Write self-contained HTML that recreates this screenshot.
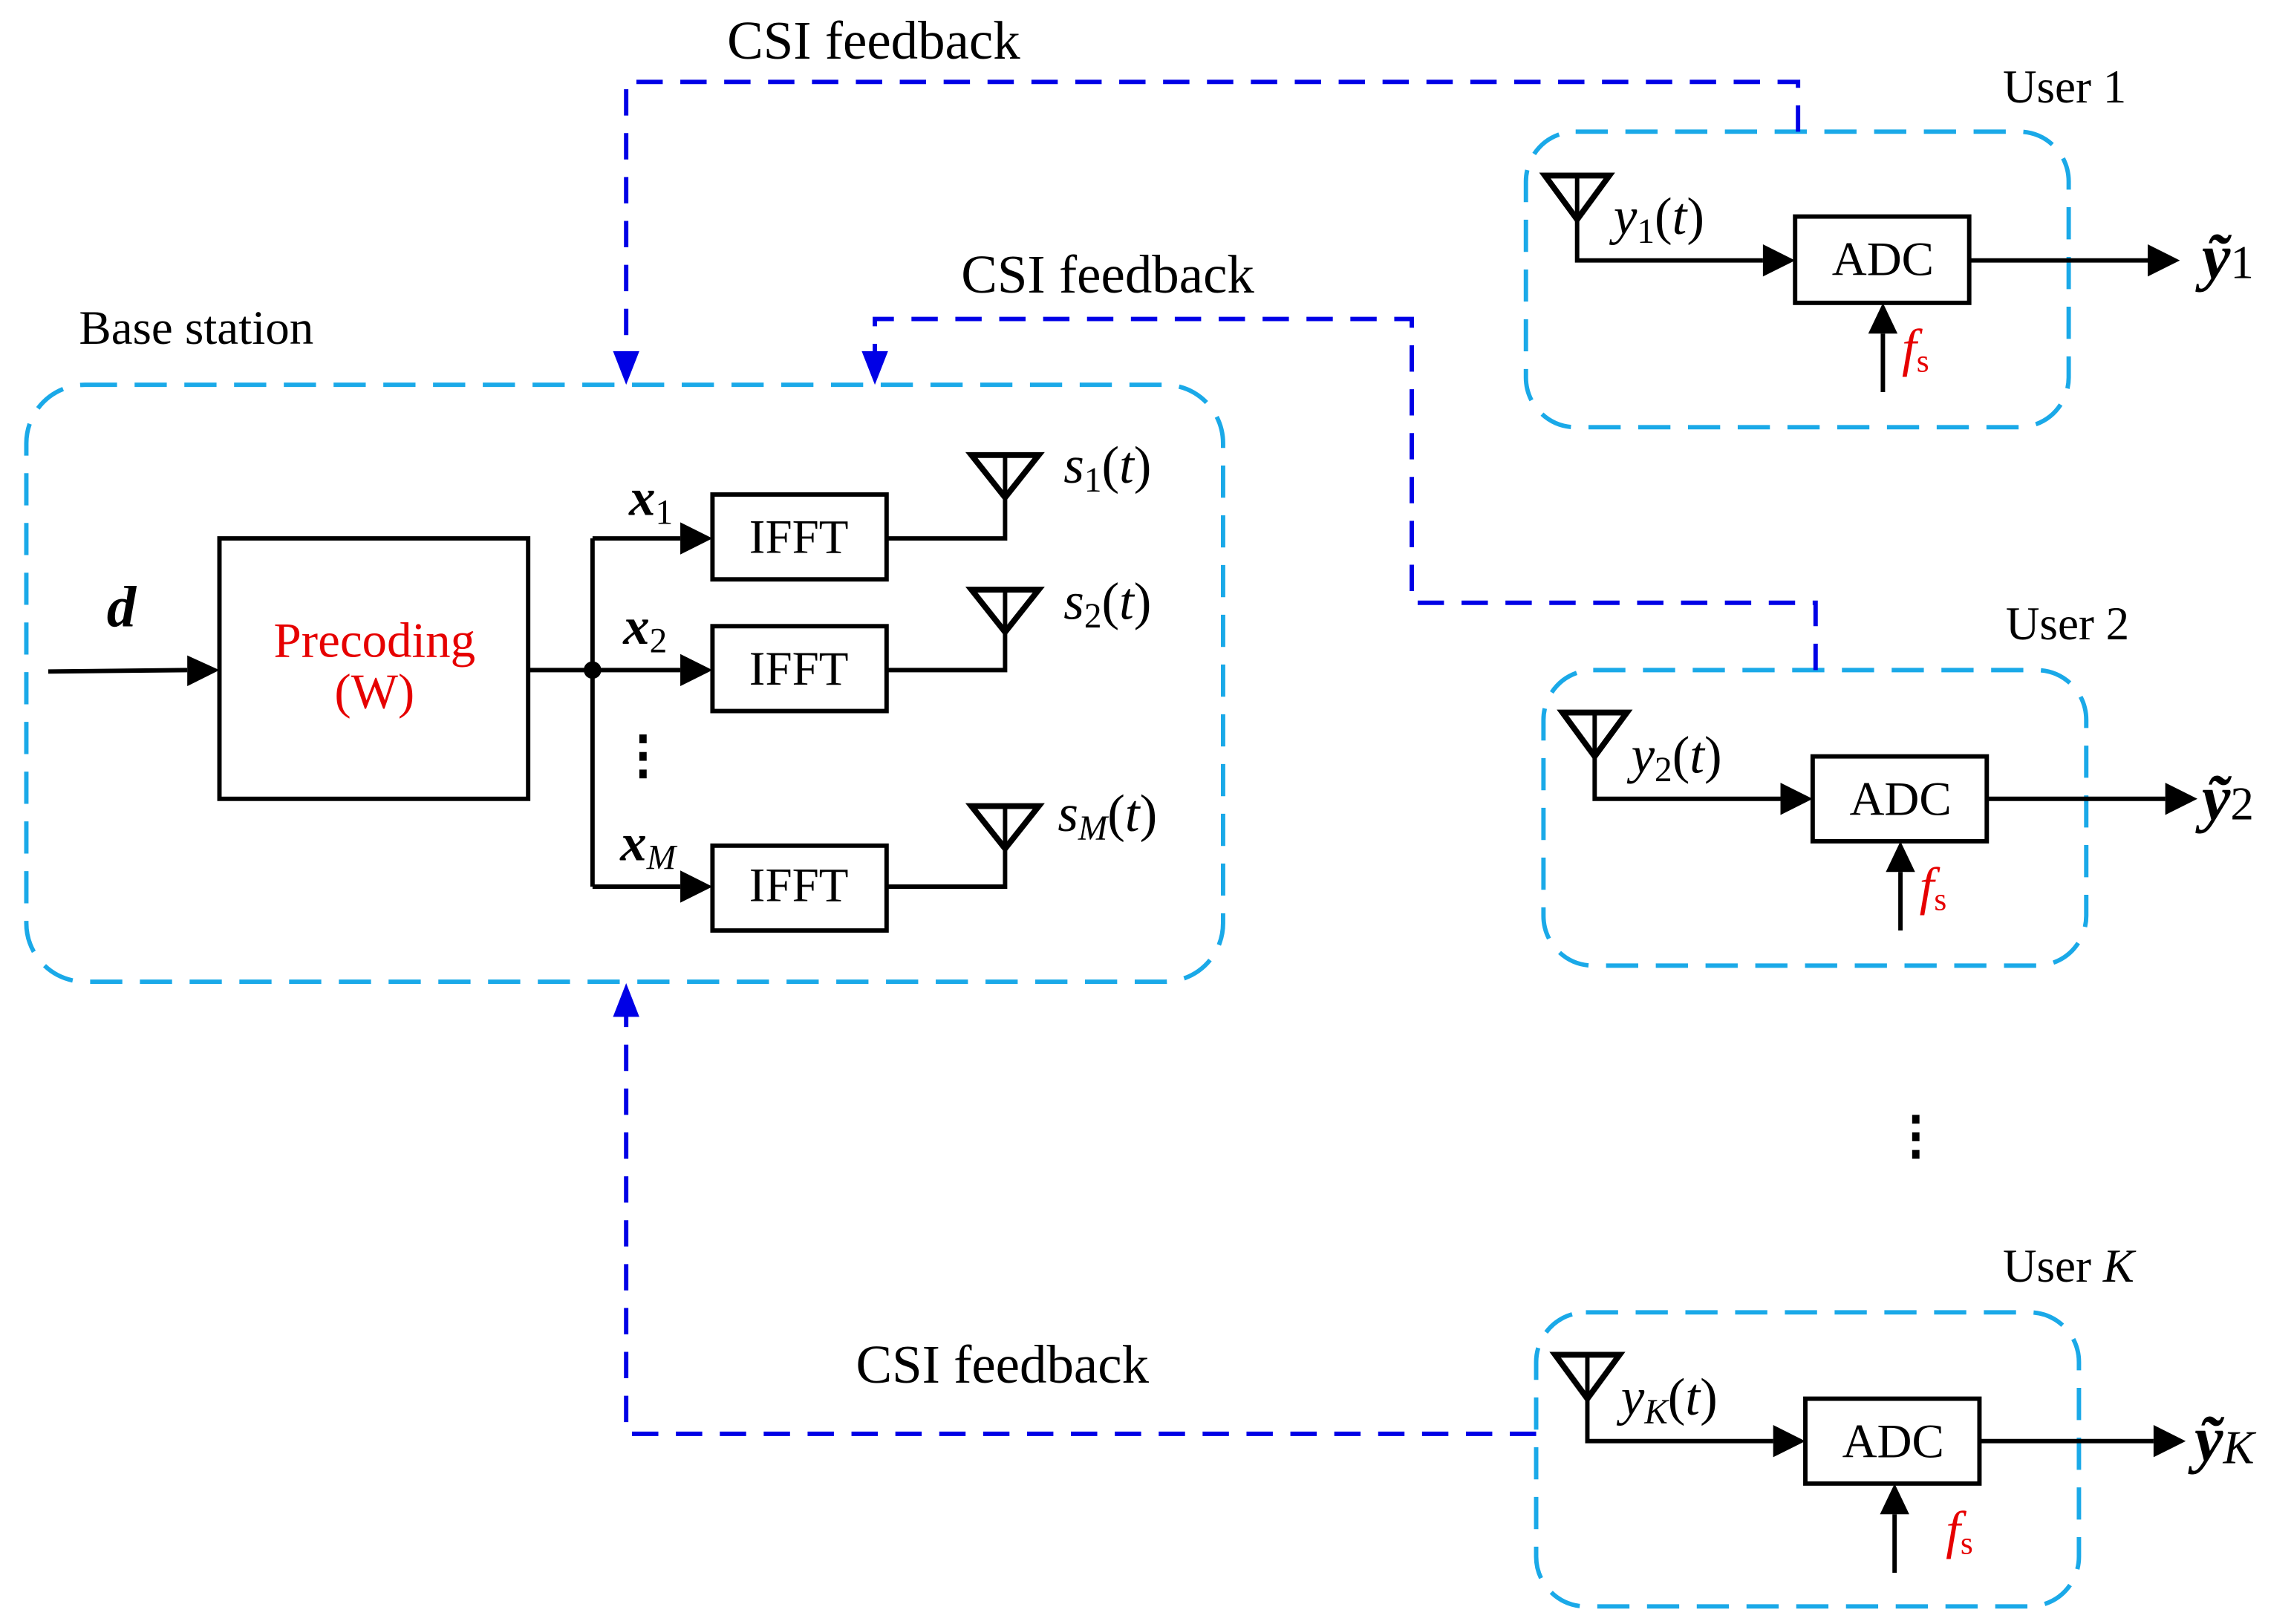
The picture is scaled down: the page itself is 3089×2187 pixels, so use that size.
<!DOCTYPE html>
<html><head><meta charset="utf-8"><style>html,body{margin:0;padding:0;background:#fff}svg{display:block}</style></head>
<body>
<svg width="3089" height="2187" viewBox="0 0 1568 1110" preserveAspectRatio="none" xmlns="http://www.w3.org/2000/svg" font-family="Liberation Serif, serif">
<g fill="none" stroke="#1aa9e8" stroke-width="3" stroke-dasharray="22,12">
<rect x="18" y="263" width="818" height="408" rx="40"/>
<rect x="1043" y="90" width="371" height="202" rx="34"/>
<rect x="1055" y="458" width="371" height="202" rx="34"/>
<rect x="1050" y="897" width="371" height="201" rx="34"/>
</g>
<g fill="none" stroke="#0000e6" stroke-width="3" stroke-dasharray="18,12">
<path d="M1229,90 V56 H428 V245"/>
<path d="M1241,458 V412 H965 V218 H598 V245"/>
<path d="M1050,980 H428 V690"/>
</g>
<g fill="#0000e6">
<path d="M419,240 L437,240 L428,263 z"/>
<path d="M589,240 L607,240 L598,263 z"/>
<path d="M419,695 L437,695 L428,672 z"/>
</g>
<g stroke="#000" stroke-width="3" fill="none">
<rect x="150" y="368" width="211" height="178"/>
<rect x="487" y="338" width="119" height="58"/>
<rect x="487" y="428" width="119" height="58"/>
<rect x="487" y="578" width="119" height="58"/>
<path d="M33,459 L128,458"/>
<path d="M361,458 H465"/>
<path d="M405,368 V606"/>
<path d="M405,368 H465 M405,606 H465"/>
<path d="M606,368 H687 V311 M606,458 H687 V403 M606,606 H687 V551"/>
<path d="M664,311 H710 L687,340 Z M664,403 H710 L687,432 Z M664,551 H710 L687,580 Z" stroke-width="4"/>
<rect x="1227" y="148" width="119" height="59"/>
<rect x="1239" y="517" width="119" height="58"/>
<rect x="1234" y="956" width="119" height="58"/>
<path d="M1078,120 V178 H1205 M1346,178 H1468 M1287,268 V228"/>
<path d="M1090,487 V546 H1217 M1358,546 H1480 M1299,636 V596"/>
<path d="M1085,926 V985 H1212 M1353,985 H1472 M1295,1075 V1035"/>
<path d="M1056,120 H1100 L1078,150 Z M1068,487 H1112 L1090,517 Z M1063,926 H1107 L1085,956 Z" stroke-width="4"/>
</g>
<g fill="#000">
<path d="M128,448 L150,458 L128,469 z"/>
<path d="M465,357 L487,368 L465,379 z M465,447 L487,458 L465,469 z M465,595 L487,606 L465,617 z"/>
<circle cx="405" cy="458" r="6"/>
<path d="M1205,167 L1227,178 L1205,189 z M1468,167 L1490,178 L1468,189 z M1277,228 L1287,207 L1297,228 z"/>
<path d="M1217,535 L1239,546 L1217,557 z M1480,535 L1502,546 L1480,557 z M1289,596 L1299,575 L1309,596 z"/>
<path d="M1212,974 L1234,985 L1212,996 z M1472,974 L1494,985 L1472,996 z M1285,1035 L1295,1014 L1305,1035 z"/>
<rect x="437" y="502" width="5" height="6"/><rect x="437" y="514" width="5" height="6"/><rect x="437" y="526" width="5" height="6"/>
<rect x="1307" y="762" width="5" height="6"/><rect x="1307" y="774" width="5" height="6"/><rect x="1307" y="786" width="5" height="6"/>
</g>
<g font-size="37" fill="#000">
<text x="497" y="40">CSI feedback</text>
<text x="657" y="200">CSI feedback</text>
<text x="585" y="945">CSI feedback</text>
<text x="54" y="235" font-size="33">Base station</text>
<text x="1369" y="70" font-size="32">User 1</text>
<text x="1371" y="437" font-size="32">User 2</text>
<text x="1369" y="876" font-size="32">User <tspan font-style="italic">K</tspan></text>
<text x="546" y="378" font-size="33" text-anchor="middle">IFFT</text>
<text x="546" y="468" font-size="33" text-anchor="middle">IFFT</text>
<text x="546" y="616" font-size="33" text-anchor="middle">IFFT</text>
<text x="1287" y="188" font-size="33" text-anchor="middle">ADC</text>
<text x="1299" y="557" font-size="33" text-anchor="middle">ADC</text>
<text x="1294" y="996" font-size="33" text-anchor="middle">ADC</text>
<text x="256" y="449" font-size="34" fill="#e60000" text-anchor="middle">Precoding</text>
<text x="256" y="484" font-size="34" fill="#e60000" text-anchor="middle">(W)</text>
<text x="73" y="428" font-size="40" font-weight="bold" font-style="italic">d</text>
<g font-size="36">
<text x="430" y="352" font-weight="bold" font-style="italic">x<tspan font-size="24" font-weight="normal" font-style="normal" dy="6">1</tspan></text>
<text x="426" y="440" font-weight="bold" font-style="italic">x<tspan font-size="24" font-weight="normal" font-style="normal" dy="6">2</tspan></text>
<text x="424" y="588" font-weight="bold" font-style="italic">x<tspan font-size="24" font-weight="normal" dy="6">M</tspan></text>
<text x="727" y="330" font-style="italic">s<tspan font-size="24" font-style="normal" dy="6">1</tspan><tspan dy="-6" font-style="normal">(</tspan>t<tspan font-style="normal">)</tspan></text>
<text x="727" y="423" font-style="italic">s<tspan font-size="24" font-style="normal" dy="6">2</tspan><tspan dy="-6" font-style="normal">(</tspan>t<tspan font-style="normal">)</tspan></text>
<text x="723" y="568" font-style="italic">s<tspan font-size="24" dy="6">M</tspan><tspan dy="-6" font-style="normal">(</tspan>t<tspan font-style="normal">)</tspan></text>
<text x="1103" y="160" font-style="italic">y<tspan font-size="24" font-style="normal" dy="6">1</tspan><tspan dy="-6" font-style="normal">(</tspan>t<tspan font-style="normal">)</tspan></text>
<text x="1115" y="528" font-style="italic">y<tspan font-size="24" font-style="normal" dy="6">2</tspan><tspan dy="-6" font-style="normal">(</tspan>t<tspan font-style="normal">)</tspan></text>
<text x="1108" y="967" font-style="italic">y<tspan font-size="24" dy="6">K</tspan><tspan dy="-6" font-style="normal">(</tspan>t<tspan font-style="normal">)</tspan></text>
</g>
<text x="1505" y="190" font-size="44" font-weight="bold" font-style="italic">ỹ<tspan font-size="32" font-weight="normal" font-style="normal">1</tspan></text>
<text x="1505" y="560" font-size="44" font-weight="bold" font-style="italic">ỹ<tspan font-size="32" font-weight="normal" font-style="normal">2</tspan></text>
<text x="1500" y="998" font-size="44" font-weight="bold" font-style="italic">ỹ<tspan font-size="32" font-weight="normal" dy="2">K</tspan></text>
<g fill="#e60000" font-size="36">
<text x="1300" y="250" font-style="italic">f<tspan font-size="22" font-style="normal" dy="4">s</tspan></text>
<text x="1312" y="618" font-style="italic">f<tspan font-size="22" font-style="normal" dy="4">s</tspan></text>
<text x="1330" y="1058" font-style="italic">f<tspan font-size="22" font-style="normal" dy="4">s</tspan></text>
</g>
</g>
</svg>
</body></html>
